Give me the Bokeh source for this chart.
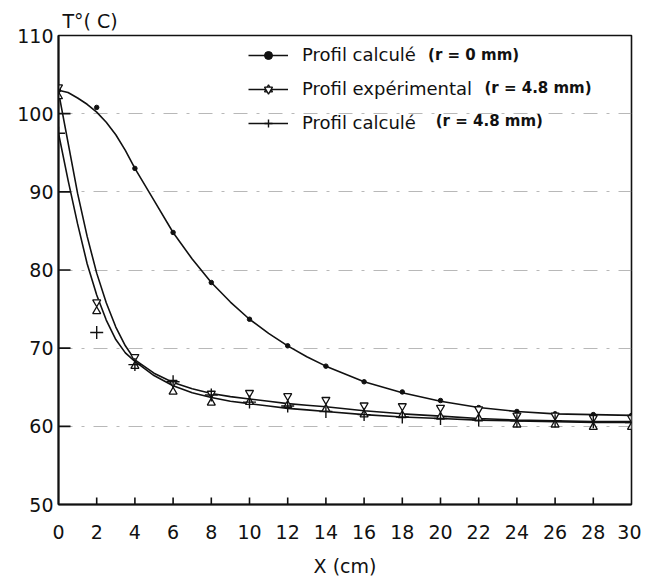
import math
from bokeh.plotting import figure
from bokeh.models import (FixedTicker, Legend, LegendItem, Label, ColumnDataSource, Title)
from bokeh.embed import file_html
from bokeh.resources import INLINE

# ---------------- data ----------------
x_cm = [0, 2, 4, 6, 8, 10, 12, 14, 16, 18, 20, 22, 24, 26, 28, 30]
t_calc_r0 = [103.0, 100.8, 93.0, 84.8, 78.4, 73.7, 70.3, 67.7, 65.7, 64.4,
             63.3, 62.4, 61.9, 61.6, 61.5, 61.4]
t_exp_r48 = [102.8, 75.3, 68.3, 65.0, 63.6, 63.7, 63.3, 62.8, 62.1, 62.0,
             61.8, 61.6, 60.8, 60.8, 60.5, 60.5]
t_calc_r48 = [97.5, 72.0, 67.9, 65.7, 64.0, 63.1, 62.6, 61.9, 61.5, 61.2,
              61.0, 60.8, 60.7, 60.7, 60.6, 60.5]

# smoothed curves as drawn on the original figure
curve_x = [0, 0.5, 1, 1.5, 2, 2.5, 3, 3.5, 4, 5, 6, 7, 8, 9, 10, 11, 12, 13,
           14, 16, 18, 20, 22, 24, 26, 28, 30]
curve_r0 = [103.0, 102.7, 102.0, 101.2, 100.2, 98.9, 97.3, 95.3, 93.0, 88.9,
            84.8, 81.4, 78.4, 75.9, 73.7, 71.9, 70.3, 68.9, 67.7, 65.7, 64.3,
            63.2, 62.4, 61.9, 61.6, 61.5, 61.4]
curve_exp = [102.8, 96.3, 89.8, 84.3, 79.6, 75.8, 72.7, 70.3, 68.5, 66.8,
             65.6, 64.8, 64.2, 63.8, 63.5, 63.2, 62.9, 62.7, 62.5, 62.0, 61.6,
             61.3, 61.0, 60.8, 60.7, 60.6, 60.6]
curve_calc = [97.5, 91.5, 85.9, 80.8, 76.8, 73.6, 71.1, 69.4, 68.3, 66.5,
              65.2, 64.3, 63.7, 63.2, 62.9, 62.6, 62.3, 62.1, 61.9, 61.5, 61.2,
              61.0, 60.8, 60.7, 60.6, 60.5, 60.5]

x_ticks = list(range(0, 31, 2))
y_ticks = [50, 60, 70, 80, 90, 100, 110]

legend_labels = ["Profil calculé", "Profil expérimental", "Profil calculé"]
legend_notes = ["(r = 0 mm)", "(r = 4.8 mm)", "(r = 4.8 mm)"]

# ---------------- figure ----------------
FONT = "DejaVu Sans"
INK = "#111111"
FRAME_W, FRAME_H = 573, 469
X0, X1, Y0, Y1 = 0, 30, 50, 110
px_per_cm = FRAME_W / (X1 - X0)
px_per_deg = FRAME_H / (Y1 - Y0)

p = figure(frame_width=FRAME_W, frame_height=FRAME_H,
           x_range=(X0, X1), y_range=(Y0, Y1),
           output_backend="svg", toolbar_location=None,
           min_border_left=58, min_border_right=10,
           min_border_top=35, min_border_bottom=74,
           background_fill_color="white", border_fill_color="white")

p.add_layout(Title(text="T°( C)", align="left", offset=4, standoff=8,
                   text_font=FONT, text_font_size="19px",
                   text_font_style="normal", text_color=INK), "above")

p.outline_line_color = INK
p.outline_line_width = 1.6
p.outline_line_alpha = 1

p.xgrid.visible = False
p.ygrid.ticker = FixedTicker(ticks=y_ticks[1:-1])
p.ygrid.grid_line_color = "#9a9a9a"
p.ygrid.grid_line_dash = "14 9 3 9"
p.ygrid.grid_line_width = 1
p.ygrid.grid_line_alpha = 0.7

for ax in (p.xaxis[0], p.yaxis[0]):
    ax.axis_line_color = INK
    ax.axis_line_width = 2
    ax.major_tick_line_color = None
    ax.major_tick_in = 0
    ax.major_tick_out = 0
    ax.minor_tick_line_color = None
    ax.major_label_text_font = FONT
    ax.major_label_text_font_size = "19px"
    ax.major_label_text_color = INK

p.xaxis.ticker = FixedTicker(ticks=x_ticks)
p.xaxis.major_label_standoff = 20
p.xaxis.axis_label = "X (cm)"
p.xaxis.axis_label_text_font = FONT
p.xaxis.axis_label_text_font_size = "19px"
p.xaxis.axis_label_text_font_style = "normal"
p.xaxis.axis_label_text_color = INK
p.xaxis.axis_label_standoff = 13

p.yaxis.ticker = FixedTicker(ticks=y_ticks)
p.yaxis.major_label_standoff = 5

# inward tick marks, built from the tick lists
yt = y_ticks[1:-1]
p.segment(x0=[X0] * len(yt), y0=yt, x1=[X0 + 12 / px_per_cm] * len(yt), y1=yt,
          line_color=INK, line_width=1.6)
xt = x_ticks[1:-1]
p.segment(x0=xt, y0=[Y0] * len(xt), x1=xt, y1=[Y0 + 7 / px_per_deg] * len(xt),
          line_color=INK, line_width=1.6)

# ---------------- series ----------------
LW = 1.6
l_r0 = p.line(curve_x, curve_r0, line_color=INK, line_width=LW)
l_exp = p.line(curve_x, curve_exp, line_color=INK, line_width=LW)
l_calc = p.line(curve_x, curve_calc, line_color=INK, line_width=LW)

m_r0 = p.scatter(x_cm, t_calc_r0, marker="circle", size=4.5,
                 fill_color=INK, line_color=INK)

# hourglass marker = inverted triangle above + triangle below, apexes meeting
TRI = 8
off = (2.0 / 3.0) * (TRI / 2.0) * math.sqrt(3) / px_per_deg
src_exp = ColumnDataSource(dict(
    x=x_cm,
    up=[t - off for t in t_exp_r48],
    down=[t + off for t in t_exp_r48]))
m_exp_lo = p.scatter("x", "up", source=src_exp, marker="triangle", size=TRI,
                     fill_color="white", line_color=INK, line_width=1.3)
m_exp_hi = p.scatter("x", "down", source=src_exp, marker="inverted_triangle",
                     size=TRI, fill_color="white", line_color=INK,
                     line_width=1.3)

m_calc = p.scatter(x_cm, t_calc_r48, marker="cross", size=13,
                   line_color=INK, line_width=1.4)

legend = Legend(items=[
    LegendItem(label=legend_labels[0], renderers=[l_r0, m_r0]),
    LegendItem(label=legend_labels[1], renderers=[l_exp, m_exp_lo, m_exp_hi]),
    LegendItem(label=legend_labels[2], renderers=[l_calc, m_calc]),
], location=(190, 371), orientation="vertical",
    glyph_width=40, glyph_height=20, label_height=20, label_standoff=14,
    spacing=13, padding=0, margin=0,
    border_line_alpha=0, background_fill_alpha=0,
    label_text_font=FONT, label_text_font_size="18px",
    label_text_color=INK)
p.add_layout(legend)

note_x = [19.35, 22.3, 19.75]
note_y = [107.25, 103.0, 98.8]
for nx, ny, txt in zip(note_x, note_y, legend_notes):
    p.add_layout(Label(x=nx, y=ny, text=txt, text_font=FONT,
                       text_font_size="15px", text_font_style="bold",
                       text_color=INK, text_baseline="middle",
                       text_align="left", y_offset=2))

open("out.html", "w").write(file_html(p, INLINE))
